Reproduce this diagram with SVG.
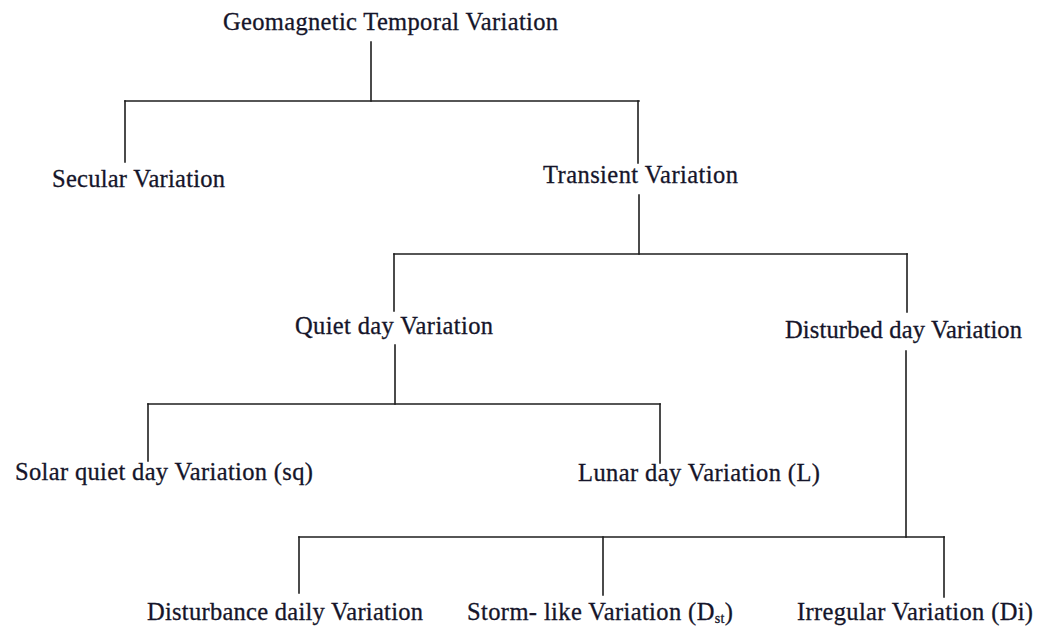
<svg xmlns="http://www.w3.org/2000/svg" width="1041" height="630" viewBox="0 0 1041 630">
<style>
.t{font-family:"Liberation Serif","Times New Roman",serif;font-size:24.5px;fill:#15152a;stroke:#15152a;stroke-width:0.3}
.sub{font-size:14px}
.c line{stroke:#1e1e1e;stroke-width:1.6;stroke-linecap:square}
</style>
<rect width="1041" height="630" fill="#ffffff"/>
<g class="c" id="connectors">
<line x1="371" y1="42" x2="371" y2="101"/>
<line x1="125" y1="101" x2="639" y2="101"/>
<line x1="125" y1="101" x2="125" y2="162"/>
<line x1="638" y1="101" x2="638" y2="163"/>
<line x1="639" y1="195" x2="639" y2="254"/>
<line x1="394" y1="254" x2="907" y2="254"/>
<line x1="394" y1="254" x2="394" y2="311"/>
<line x1="907" y1="254" x2="907" y2="312"/>
<line x1="395" y1="345" x2="395" y2="404"/>
<line x1="148" y1="404" x2="660" y2="404"/>
<line x1="148" y1="404" x2="148" y2="461"/>
<line x1="660" y1="404" x2="660" y2="463"/>
<line x1="906" y1="351" x2="906" y2="537"/>
<line x1="299" y1="537" x2="944" y2="537"/>
<line x1="299" y1="537" x2="299" y2="593"/>
<line x1="603" y1="537" x2="603" y2="595"/>
<line x1="944" y1="537" x2="944" y2="597"/>
</g>
<g id="n-root"><text class="t" x="223" y="30" textLength="335">Geomagnetic Temporal Variation</text></g>
<g id="n-secular"><text class="t" x="52" y="187" textLength="173">Secular Variation</text></g>
<g id="n-transient"><text class="t" x="543" y="183" textLength="195">Transient Variation</text></g>
<g id="n-quiet"><text class="t" x="295" y="334" textLength="198">Quiet day Variation</text></g>
<g id="n-disturbed"><text class="t" x="785" y="338" textLength="237">Disturbed day Variation</text></g>
<g id="n-solar"><text class="t" x="15" y="480" textLength="298">Solar quiet day Variation (sq)</text></g>
<g id="n-lunar"><text class="t" x="578" y="481" textLength="242">Lunar day Variation (L)</text></g>
<g id="n-dd"><text class="t" x="147" y="620" textLength="276">Disturbance daily Variation</text></g>
<g id="n-storm"><text class="t" x="467" y="620" textLength="266">Storm- like Variation (D<tspan class="sub" dy="3">st</tspan><tspan dy="-3">)</tspan></text></g>
<g id="n-irregular"><text class="t" x="797" y="620" textLength="236">Irregular Variation (Di)</text></g>
</svg>
